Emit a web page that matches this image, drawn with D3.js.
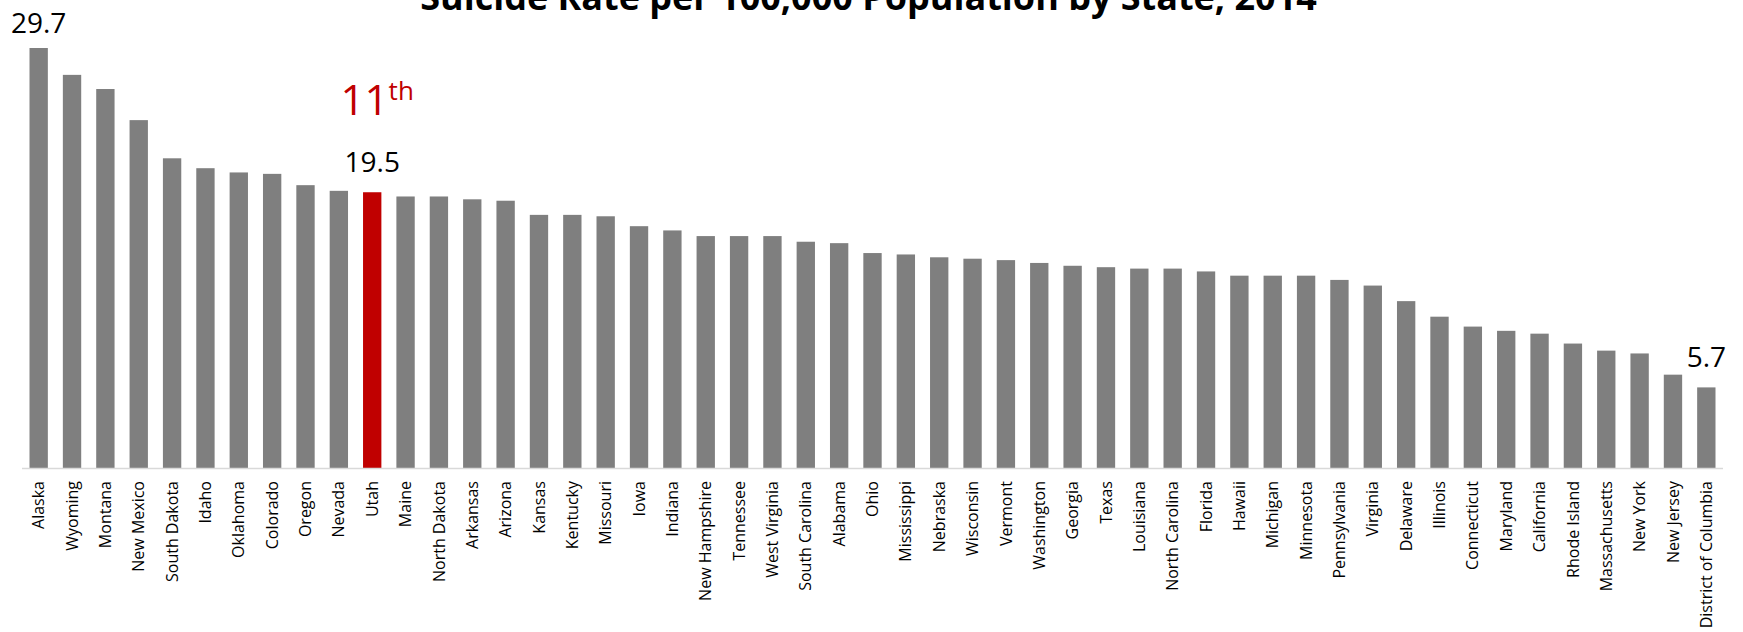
<!DOCTYPE html>
<html>
<head>
<meta charset="utf-8">
<script src="https://cdn.jsdelivr.net/npm/d3@7"></script>
<style>
  body { margin: 0; background: #fff; }
  #chart { width: 1743px; height: 632px; overflow: hidden; }
  .title { font-family: 'Open Sans', sans-serif; font-weight: bold; font-size: 36px; fill: #000; }
  .state-label { font-family: 'Open Sans', sans-serif; font-size: 16px; fill: #000; }
  .value-label { font-family: 'Open Sans', sans-serif; font-size: 28px; fill: #000; }
  .rank-label { font-family: 'Open Sans', sans-serif; font-size: 42px; fill: #c00000; }
</style>
</head>
<body>
<div id="chart"></div>
<script>
const title = 'Suicide Rate per 100,000 Population by State, 2014';

const states = ['Alaska', 'Wyoming', 'Montana', 'New Mexico', 'South Dakota', 'Idaho', 'Oklahoma',
    'Colorado', 'Oregon', 'Nevada', 'Utah', 'Maine', 'North Dakota', 'Arkansas', 'Arizona', 'Kansas',
    'Kentucky', 'Missouri', 'Iowa', 'Indiana', 'New Hampshire', 'Tennessee', 'West Virginia',
    'South Carolina', 'Alabama', 'Ohio', 'Mississippi', 'Nebraska', 'Wisconsin', 'Vermont',
    'Washington', 'Georgia', 'Texas', 'Louisiana', 'North Carolina', 'Florida', 'Hawaii', 'Michigan',
    'Minnesota', 'Pennsylvania', 'Virginia', 'Delaware', 'Illinois', 'Connecticut', 'Maryland',
    'California', 'Rhode Island', 'Massachusetts', 'New York', 'New Jersey', 'District of Columbia'];

const rates = [29.7, 27.8, 26.8, 24.6, 21.9, 21.2, 20.9,
    20.8, 20.0, 19.6, 19.5, 19.2, 19.2, 19.0, 18.9, 17.9,
    17.9, 17.8, 17.1, 16.8, 16.4, 16.4, 16.4,
    16.0, 15.9, 15.2, 15.1, 14.9, 14.8, 14.7,
    14.5, 14.3, 14.2, 14.1, 14.1, 13.9, 13.6, 13.6,
    13.6, 13.3, 12.9, 11.8, 10.7, 10.0, 9.7,
    9.5, 8.8, 8.3, 8.1, 6.6, 5.7];

const highlightState = 'Utah';
const rankNumber = '11';
const rankSuffix = 'th';
const labelledStates = ['Alaska', 'Utah', 'District of Columbia'];

let DrawRates = function (id) {
    this.id = id
    this.svgWidth = 1743
    this.svgHeight = 632

    this.svg = d3.select('#' + id).append('svg')
        .attr('width', this.svgWidth)
        .attr('height', this.svgHeight)

    this.margin = {top: 48, right: 20, bottom: 164, left: 22}
}

DrawRates.prototype.draw = function () {
    const margin = this.margin
    const innerWidth = this.svgWidth - margin.left - margin.right
    const innerHeight = this.svgHeight - margin.top - margin.bottom
    const data = states.map((s, i) => ({state: s, rate: rates[i]}))

    const xScale = d3.scaleBand()
        .domain(states)
        .range([0, innerWidth])
        .paddingInner(0.45)
        .paddingOuter(0.225)

    const yScale = d3.scaleLinear()
        .domain([0, d3.max(rates)])
        .range([innerHeight, 0])   // 最高的柱子顶到上边距

    const g = this.svg.append('g')
        .attr('transform', `translate(${margin.left},${margin.top})`)

    // 标题只露出下半截
    this.svg.append('text')
        .attr('class', 'title')
        .attr('x', margin.left + innerWidth / 2 - 4)
        .attr('y', 10)
        .attr('text-anchor', 'middle')
        .text(title)

    g.selectAll('rect.bar')
        .data(data)
        .enter().append('rect')
        .attr('class', 'bar')
        .attr('x', d => xScale(d.state))
        .attr('y', d => yScale(d.rate))
        .attr('width', xScale.bandwidth())
        .attr('height', d => innerHeight - yScale(d.rate))
        .attr('fill', d => d.state === highlightState ? '#c00000' : '#7f7f7f')

    const xAxis = d3.axisBottom(xScale)
        .tickSize(0)
        .tickPadding(0)

    const xAxisG = g.append('g')
        .attr('transform', `translate(0,${innerHeight})`)
        .call(xAxis)

    xAxisG.select('.domain')
        .attr('stroke', '#d9d9d9')
        .attr('stroke-width', 1.5)
        .attr('d', `M0,0.5H${innerWidth}`)

    xAxisG.selectAll('.tick text')
        .attr('class', 'state-label')
        .attr('font-family', null)
        .attr('font-size', null)
        .attr('fill', null)
        .attr('transform', 'translate(0,13) rotate(-90)')
        .attr('text-anchor', 'end')
        .attr('x', 0)
        .attr('y', 0)
        .attr('dy', '0.35em')

    // 数值标注
    g.selectAll('text.value-label')
        .data(data.filter(d => labelledStates.includes(d.state)))
        .enter().append('text')
        .attr('class', 'value-label')
        .attr('x', d => xScale(d.state) + xScale.bandwidth() / 2)
        .attr('y', d => Math.max(yScale(d.rate) - 20, 33 - margin.top))
        .attr('text-anchor', 'middle')
        .text(d => d.rate.toFixed(1))

    const hl = data.find(d => d.state === highlightState)
    const rank = g.append('text')
        .attr('class', 'rank-label')
        .attr('x', xScale(hl.state) + xScale.bandwidth() / 2 + 5)
        .attr('y', yScale(hl.rate) - 77)
        .attr('text-anchor', 'middle')
    rank.append('tspan').text(rankNumber)
    rank.append('tspan')
        .attr('font-size', '26px')
        .attr('dy', '-15')
        .text(rankSuffix)
}

const chart = new DrawRates('chart')
chart.draw()
</script>
</body>
</html>
